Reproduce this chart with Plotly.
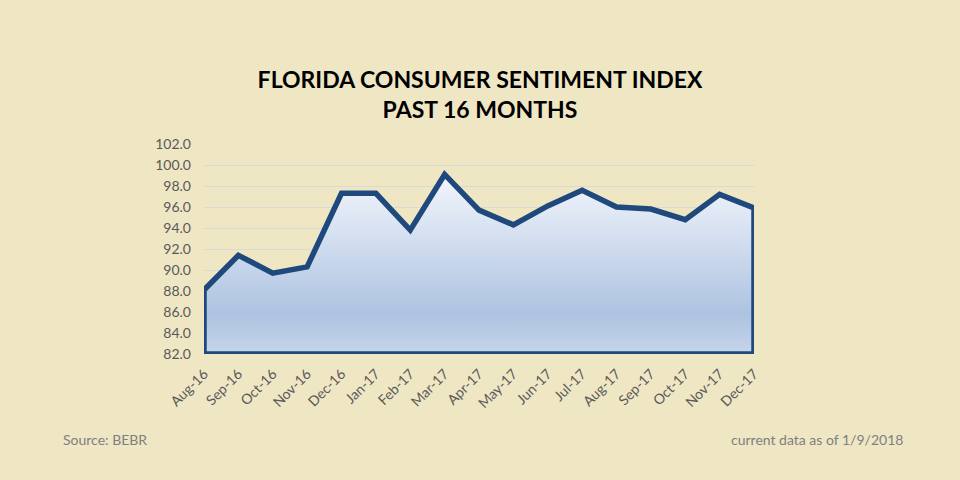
import plotly.graph_objects as go

# Florida consumer sentiment, last 16 months
months = ["Aug-16", "Sep-16", "Oct-16", "Nov-16", "Dec-16", "Jan-17", "Feb-17", "Mar-17",
          "Apr-17", "May-17", "Jun-17", "Jul-17", "Aug-17", "Sep-17", "Oct-17", "Nov-17", "Dec-17"]
sentiment = [88.1, 91.4, 89.7, 90.3, 97.3, 97.3, 93.8, 99.1,
             95.7, 94.3, 96.1, 97.6, 96.0, 95.8, 94.8, 97.2, 95.9]
y_min, y_max, y_step = 82.0, 102.0, 2.0

bg = "#efe6c4"
line_col = "#1f497d"
grey = "#595959"
font = "Lato, 'Open Sans', sans-serif"

# closed outline: top line, down the right edge, along the bottom, back up the left edge
xs = months + [months[-1], months[0], months[0]]
ys = sentiment + [y_min, y_min, sentiment[0]]

fig = go.Figure()
fig.add_trace(go.Scatter(
    x=xs, y=ys, mode="lines", fill="toself",
    line=dict(color=line_col, width=5.5),
    fillgradient=dict(type="vertical",
                      colorscale=[[0, "#c6d5ea"], [0.22, "#adc3e1"], [1, "#f3f6fc"]]),
    hoverinfo="skip", showlegend=False,
))

fig.update_layout(
    width=960, height=480,
    paper_bgcolor=bg, plot_bgcolor=bg,
    margin=dict(l=204, r=206, t=144, b=126),
    font=dict(family=font, color=grey),
    title=dict(text="<b>FLORIDA CONSUMER SENTIMENT INDEX<br>PAST 16 MONTHS</b>",
               x=0.5, xanchor="center", y=1 - 88 / 480, yanchor="middle", yref="container",
               font=dict(family=font, size=23, color="#000000")),
)
fig.update_xaxes(type="category", categoryorder="array", categoryarray=months,
                 range=[0, len(months) - 1], tickangle=-45, showgrid=False,
                 showline=False, ticks="", ticklabelstandoff=8,
                 tickfont=dict(size=14, color=grey))
fig.update_yaxes(range=[y_min, y_max], dtick=y_step, tick0=y_min, tickformat=".1f",
                 showgrid=True, gridcolor="#d9d9d9", gridwidth=1, zeroline=False,
                 showline=False, ticks="", ticklabelstandoff=12,
                 tickfont=dict(size=14, color=grey))

fig.add_annotation(text="Source: BEBR", xref="paper", yref="paper", x=(61 - 204) / 550,
                   y=(354 - 439) / 210, xanchor="left", yanchor="middle", showarrow=False,
                   font=dict(size=14, color="#7f7f7f"))
fig.add_annotation(text="current data as of 1/9/2018", xref="paper", yref="paper",
                   x=(905 - 204) / 550, y=(354 - 439) / 210, xanchor="right", yanchor="middle",
                   showarrow=False, font=dict(size=14, color="#7f7f7f"))

# drop the page's default body margin so the figure fills the window
fig.write_html("out.html", config={"displayModeBar": False},
               post_script="document.body.style.margin='0';"
                           "document.body.style.background='#efe6c4';")
